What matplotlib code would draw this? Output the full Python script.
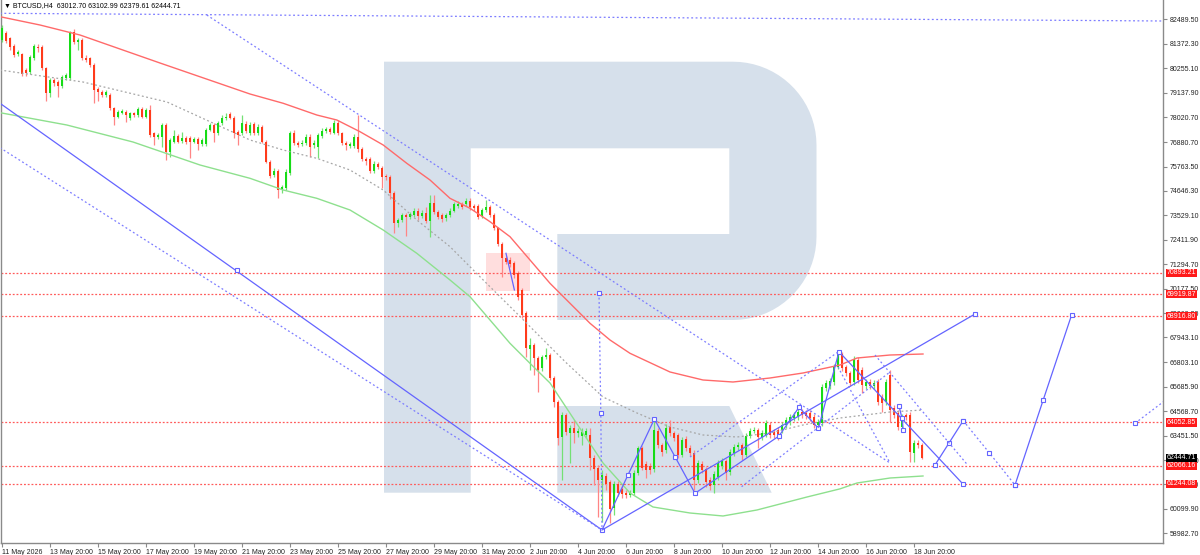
import numpy as np
import matplotlib
matplotlib.use("Agg")
import matplotlib.pyplot as plt
from matplotlib.patches import Polygon, Rectangle
import matplotlib.transforms as mtransforms

# ---------------- data ----------------
symbol_header = "\u25BC BTCUSD,H4  63012.70 63102.99 62379.61 62444.71"

x_tick_bars = [0, 12, 24, 36, 48, 60, 72, 84, 96, 108, 120, 132, 144, 156, 168, 180, 192, 204, 216, 228]
x_tick_labels = ["11 May 2026", "13 May 20:00", "15 May 20:00", "17 May 20:00", "19 May 20:00",
                 "21 May 20:00", "23 May 20:00", "25 May 20:00", "27 May 20:00", "29 May 20:00",
                 "31 May 20:00", "2 Jun 20:00", "4 Jun 20:00", "6 Jun 20:00", "8 Jun 20:00",
                 "10 Jun 20:00", "12 Jun 20:00", "14 Jun 20:00", "16 Jun 20:00", "18 Jun 20:00"]

y_tick_values = [82489.50, 81372.30, 80255.10, 79137.90, 78020.70, 76880.70, 75763.50, 74646.30,
                 73529.10, 72411.90, 71294.70, 70177.50, 69060.30, 67943.10, 66803.10, 65685.90,
                 64568.70, 63451.50, 62334.30, 61217.10, 60099.90, 58982.70]

level_values = [70893.21, 69919.87, 68916.80, 64052.85, 62066.16, 61244.08]
last_price = 62444.71

O = [81552, 81858, 81630, 81291, 80898, 80898, 80179, 80088, 80714, 81245,
     81245, 80257, 79113, 79722, 79644, 79447, 79799, 79799, 81904, 81474,
     81552, 80742, 80714, 80408, 79310, 79186, 79035, 79035, 78427, 78043,
     78226, 78271, 77968, 78198, 78120, 78381, 78043, 78349, 77283, 77128,
     77128, 77663, 76441, 76899, 77173, 76931, 77054, 77054, 76899, 77022,
     76780, 76780, 77434, 77663, 77283, 77740, 77968, 78152, 77968, 77329,
     77283, 77709, 77283, 77709, 77283, 77558, 76899, 75984, 75376, 75572,
     74689, 74767, 75453, 77283, 76858, 76794, 76826, 77128, 76748, 76670,
     77160, 77388, 77466, 77310, 77768, 77283, 76826, 76716, 76716, 77128,
     76551, 76094, 76094, 75572, 75879, 75682, 75330, 75270, 74565, 73166,
     73317, 73545, 73440, 73545, 73742, 73500, 73623, 73285, 74081, 73697,
     73545, 73394, 73545, 73742, 73957, 74049, 74049, 74200, 73957, 73957,
     73500, 73774, 73898, 73545, 72937, 72219, 71564, 71487, 71336, 70892,
     70114, 69062, 67415, 67598, 67003, 66546, 67049, 67140, 66088, 64990,
     63389, 64395, 63572, 63801, 63572, 63435, 63481, 63481, 62428, 61971,
     61422, 61605, 61330, 60141, 61239, 61010, 60827, 60736, 60827, 61742,
     62886, 62154, 62062, 61925, 63663, 63023, 62794, 63846, 63572, 63481,
     62565, 63297, 62886, 62657, 61422, 62154, 61925, 61422, 61193, 61559,
     62062, 62291, 61788, 62657, 62931, 63023, 62565, 63435, 63663, 63709,
     63389, 63481, 63938, 63618, 63709, 63709, 63938, 64075, 64258, 64304,
     64532, 64487, 64487, 64304, 63938, 64029, 65631, 65722, 65905, 66591,
     67186, 66591, 66317, 65905, 66912, 66454, 65722, 65905, 65722, 65905,
     65219, 64990, 66225, 64716, 64487, 63846, 64395, 64395, 62657, 63115,
     63012.70]

Hi = [82238, 81963, 81689, 81369, 81094, 80957, 80271, 80866, 81369, 81369,
      81323, 80317, 79813, 79813, 79722, 79951, 80042, 81963, 82055, 81643,
      81643, 80866, 80774, 80499, 79401, 79264, 79264, 79127, 78486, 78349,
      78395, 78349, 78258, 78258, 78486, 78486, 78441, 78578, 77343, 77297,
      77754, 77754, 77068, 77434, 77251, 77329, 77160, 77160, 77114, 77114,
      77068, 77526, 77740, 77754, 77846, 78120, 78198, 78258, 78075, 77434,
      78120, 77846, 77800, 77800, 77709, 77663, 76977, 76062, 75696, 75650,
      74918, 75650, 77388, 77434, 76931, 76977, 77251, 77251, 76977, 77297,
      77526, 77571, 77571, 77892, 77892, 77343, 76931, 76886, 77251, 78120,
      76657, 76199, 76199, 76016, 75970, 75787, 75421, 75376, 74643, 73408,
      73637, 73637, 73683, 73865, 73865, 73774, 73925, 74460, 74460, 73774,
      73637, 73637, 73865, 74140, 74186, 74140, 74323, 74323, 74049, 74049,
      73865, 74232, 74003, 73637, 73019, 72310, 71670, 71624, 71441, 70983,
      70206, 69154, 67918, 67690, 67095, 67140, 67461, 67232, 66180, 65082,
      64532, 64487, 63938, 64167, 63801, 63801, 63801, 63801, 62565, 62108,
      61879, 61742, 61422, 61376, 61376, 61147, 60964, 60964, 61879, 62977,
      62977, 62291, 62200, 64167, 63801, 63115, 63984, 64167, 63663, 63572,
      63389, 63435, 63023, 62794, 62337, 62291, 62017, 61559, 61834, 62337,
      62428, 62383, 62840, 63069, 63160, 63115, 63572, 63801, 63846, 63801,
      63709, 64167, 64075, 63755, 63846, 64075, 64304, 64441, 64532, 64670,
      64670, 64624, 64624, 64441, 64212, 65814, 65997, 66088, 66728, 67369,
      67278, 66683, 66408, 67095, 67049, 66591, 66042, 66042, 65997, 66042,
      65356, 66042, 66454, 64853, 64624, 64441, 64487, 64532, 63252, 63252,
      63102.99]

Lo = [81460, 81415, 81094, 80774, 80820, 79905, 79905, 79997, 80637, 81003,
      80179, 78761, 78944, 79447, 78958, 79356, 79722, 79722, 81369, 81094,
      80637, 80545, 80330, 78656, 78761, 78944, 78944, 78349, 77663, 77983,
      78166, 77814, 77892, 78029, 78029, 77983, 77983, 77114, 76748, 77022,
      76670, 76062, 76213, 76840, 76840, 76840, 76794, 76153, 76840, 76519,
      76702, 76702, 77388, 76899, 77205, 77663, 77892, 77937, 77054, 76748,
      77205, 77297, 77205, 77205, 77205, 76840, 75925, 75224, 75284, 74309,
      74552, 74689, 75376, 76748, 76657, 76702, 76748, 76213, 76611, 76140,
      77068, 77297, 77251, 77251, 77205, 76748, 76519, 76611, 76611, 76428,
      76016, 75833, 75468, 75468, 75650, 74767, 75147, 74264, 72735, 73010,
      73225, 72585, 73362, 73454, 73317, 73408, 73180, 72552, 73591, 73362,
      73225, 73271, 73454, 73683, 73865, 73820, 73957, 73774, 73728, 73362,
      73408, 73683, 73454, 72859, 72127, 70709, 71304, 71167, 70663, 69657,
      68833, 67049, 66454, 66225, 65448, 66408, 66958, 65997, 64761, 63023,
      61422, 63481, 62200, 63115, 63389, 63023, 63343, 61879, 61193, 59729,
      59500, 60964, 59454, 59821, 60690, 60598, 60598, 60644, 60736, 61651,
      61879, 61513, 61696, 61788, 62886, 62520, 62657, 63435, 63206, 62428,
      62474, 62748, 62520, 60964, 61284, 61742, 61101, 60964, 60827, 61422,
      61925, 61422, 61651, 62520, 62794, 62337, 62474, 63343, 63572, 62886,
      63252, 63389, 63343, 63343, 63252, 63572, 63801, 63938, 64121, 64167,
      64258, 64212, 64121, 63801, 63709, 63892, 65493, 65585, 65768, 66500,
      66408, 66180, 65722, 65768, 65860, 65402, 65585, 65585, 65585, 64853,
      64532, 64853, 64075, 64258, 63709, 63709, 64167, 62245, 62245, 62886,
      62379.61]

C = [82114, 81506, 81245, 80866, 81016, 79982, 80028, 80774, 81291, 81172,
     80257, 79113, 79722, 79571, 79461, 79873, 79951, 81858, 81474, 81552,
     80714, 80637, 80408, 79264, 79159, 79035, 79159, 78427, 78043, 78271,
     78303, 78120, 78198, 78120, 78395, 78043, 78349, 77205, 77128, 77205,
     77663, 76441, 76977, 77173, 76899, 77082, 76899, 76899, 77022, 76780,
     76977, 77434, 77663, 77283, 77740, 77997, 78043, 77997, 77283, 77205,
     77740, 77402, 77663, 77283, 77585, 76899, 75984, 75330, 75572, 74689,
     74813, 75527, 77283, 76826, 76748, 76858, 77128, 76670, 76858, 77205,
     77402, 77466, 77356, 77768, 77283, 76826, 76748, 76794, 77128, 76551,
     76094, 76030, 75572, 75879, 75755, 75298, 75270, 74565, 73166, 73317,
     73545, 73440, 73591, 73742, 73500, 73651, 73285, 74081, 73697, 73468,
     73349, 73545, 73742, 74049, 74049, 73925, 74200, 73898, 73852, 73440,
     73774, 73898, 73545, 72937, 72219, 71564, 71409, 71304, 70800, 69794,
     68970, 67461, 67598, 67003, 66454, 67049, 67140, 66088, 64990, 63343,
     64395, 63618, 63801, 63572, 63663, 63618, 63663, 62428, 61925, 61422,
     61651, 61239, 60095, 61239, 60827, 60781, 60736, 60827, 61742, 62886,
     61971, 61879, 61879, 63709, 63023, 62703, 63801, 63572, 63343, 62565,
     63252, 62886, 62657, 61422, 62200, 61879, 61330, 61147, 61696, 62200,
     62291, 61742, 62703, 62931, 63023, 62565, 63435, 63663, 63709, 63389,
     63572, 64029, 63481, 63481, 63389, 63938, 64167, 64304, 64395, 64532,
     64395, 64350, 64258, 63938, 64075, 65676, 65860, 65951, 66591, 67232,
     66546, 66317, 65860, 66957, 65997, 65768, 65905, 65722, 65860, 64990,
     64944, 65905, 64624, 64395, 63846, 64304, 64304, 62703, 63115, 63023,
     62444.71]

# moving averages (bar index, price)
red_ma_x = [-0.5, 9.5, 19.5, 39.5, 62, 70.3, 78.7, 83.7, 89.5, 95.3, 101.2, 107, 112, 117, 122,
            127, 132, 137, 142, 147, 152, 157, 167, 175.25, 182.75, 192, 200.25, 209.5, 213.75,
            222, 230.25]
red_ma_y = [82618, 82238, 81780, 80499, 79081, 78656, 78120, 77892, 77356, 76748, 75910, 75147,
            74309, 73852, 73239, 72553, 71487, 70420, 69506, 68591, 67827, 67218, 66363, 65997,
            65905, 66088, 66317, 66683, 67003, 67140, 67186]
green_ma_x = [-0.5, 16.2, 32.75, 49.5, 62, 70.3, 78.7, 87, 95.3, 103.7, 112, 117, 122, 127, 132,
              137, 145.25, 150.25, 157, 162.75, 172, 180.25, 188.75, 201.25, 209.5, 213.75, 222,
              230.25]
green_ma_y = [78226, 77663, 76885, 75833, 75224, 74689, 74309, 73774, 72859, 71793, 70572, 69808,
              68742, 67675, 66760, 65860, 63572, 62200, 60827, 60187, 59912, 59775, 60050, 60644,
              61016, 61284, 61513, 61605]
grey_ma_x = [-0.5, 20.25, 41.25, 62, 70.3, 78.7, 87, 95.3, 103.7, 112, 120.3, 128.7, 137, 141.2,
             150.25, 158.75, 167, 175.25, 183.75, 192, 200.25, 209.5, 222, 230.25]
grey_ma_y = [80179, 79630, 78715, 76977, 76519, 76139, 75604, 74689, 73317, 72096, 70572, 69048,
             67520, 66760, 65219, 64487, 63847, 63481, 63389, 63572, 63938, 64258, 64533, 64624]

# analyst drawings (bar index, price)
top_dotted_x, top_dotted_y = [-0.5, 290.25], [82773, 82421]
diag_dotted_x, diag_dotted_y = [51.2, 222], [82695, 62200]
down_solid_x, down_solid_y = [-0.5, 150], [78656, 59134]
down_solid_mark = (58.75, 71029)
down_dotted_x, down_dotted_y = [-0.5, 150], [76624, 59134]
vert_dotted_x, vert_dotted_y = [149.25, 149.7, 150], [69963, 64501, 59134]
pink_seg_x, pink_seg_y = [126, 128.1], [71793, 70114]
zigzag_x = [150, 163.1, 173.25, 194.25, 199.25, 204.1, 209.25, 240.3]
zigzag_y = [59134, 64212, 60813, 63435, 64748, 63787, 67291, 61225]
zigzag_mid_x, zigzag_mid_y = [156.6, 168.25], [61650, 62488]
small_zz_x, small_zz_y = [224.25, 225, 225.3], [64807, 64244, 63709]
rise_solid_x, rise_solid_y = [150, 243.25], [59134, 69016]
fc_a_x, fc_a_y = [233.25, 236.8, 240.3], [62108, 63128, 64135]
fc_b_x, fc_b_y = [240.3, 246.8, 253.25], [64135, 62671, 61193]
fc_c_x, fc_c_y = [253.25, 260.3, 267.4], [61193, 65082, 68970]
fc_d_x, fc_d_y = [283.25, 292], [64016, 65232]
rise_dot1_x, rise_dot1_y = [172, 209], [62474, 67278]
rise_dot2_x, rise_dot2_y = [184.9, 222], [61115, 66363]
fall_dot1_x, fall_dot1_y = [209, 222], [66591, 62200]
fall_dot2_x, fall_dot2_y = [218.25, 241.2], [67140, 62154]
pink_box = (121, 70082, 132.1, 71793)

# ---------------- figure ----------------
W, H = 1200, 555
FONT = ["Liberation Sans", "DejaVu Sans"]
plt.rcParams["font.family"] = FONT
FS = 5.0

fig = plt.figure(figsize=(W / 100, H / 100), dpi=100, facecolor="white")
ax = fig.add_axes([1 / W, 12 / H, 1162 / W, 543 / H])
ax.set_facecolor("white")
ax.set_xlim(-0.25, 290.25)
ax.set_ylim(58539.4, 83381.6)

# watermark logo (pixel coordinates of figure, y downward)
pxT = mtransforms.Affine2D().scale(1 / W, -1 / H).translate(0, 1) + fig.transFigure
r = 83.5
t1 = np.linspace(-np.pi / 2, 0, 20)
t2 = np.linspace(0, np.pi / 2, 20)
outer = [(384, 61.7), (733, 61.7)]
outer += list(zip(733 + r * np.cos(t1), 145.2 + r * np.sin(t1)))
outer += list(zip(733 + r * np.cos(t2), 236.5 + r * np.sin(t2)))
outer += [(557.3, 320), (557.3, 234), (729.3, 234), (729.3, 148.3), (470.7, 148.3),
          (470.7, 492.7), (384, 492.7)]
logo_col = "#d6e0eb"
ax.add_patch(Polygon(outer, closed=True, transform=pxT, facecolor=logo_col, edgecolor="none", zorder=0))
ax.add_patch(Polygon([(557.3, 406), (729.3, 406), (771.7, 492.7), (557.3, 492.7)], closed=True,
                     transform=pxT, facecolor=logo_col, edgecolor="none", zorder=0))

# pink rectangle
ax.add_patch(Rectangle((pink_box[0], pink_box[1]), pink_box[2] - pink_box[0], pink_box[3] - pink_box[1],
                       facecolor="#ffdede", edgecolor="none", zorder=1))

# horizontal levels
for v in level_values:
    ax.axhline(v, color="#ff5a5a", lw=0.9, ls=(0, (1.5, 1.5)), zorder=2)

# candles
Oa, Ha, La, Ca = map(np.array, (O, Hi, Lo, C))
idx = np.arange(len(Ca))
up = Ca >= Oa
wick_cols = np.where(up, "#74e074", "#ff8585")
body_cols = np.where(up, "#16dc16", "#ff3b1b")
ax.vlines(idx, La, Ha, colors=wick_cols, lw=0.9, zorder=3)
bottoms = np.minimum(Oa, Ca)
heights = np.maximum(np.abs(Ca - Oa), 45)
ax.bar(idx, heights, bottom=bottoms, width=0.72, color=body_cols, linewidth=0, zorder=4)

# moving averages
ax.plot(red_ma_x, red_ma_y, color="#ff6a6a", lw=1.0, zorder=5)
ax.plot(green_ma_x, green_ma_y, color="#8ee08e", lw=1.0, zorder=5)
ax.plot(grey_ma_x, grey_ma_y, color="#a6a6a6", lw=0.9, ls=(0, (1.5, 2)), zorder=5)

# blue drawings
BS = "#6464ff"
BD = "#7c7cff"
dot = (0, (1.5, 2))
mk = dict(marker="s", ms=3.2, mfc="white", mec=BS, mew=0.8)
ax.plot(top_dotted_x, top_dotted_y, color=BD, lw=0.9, ls=dot, zorder=6)
ax.plot(diag_dotted_x, diag_dotted_y, color=BD, lw=0.9, ls=dot, zorder=6)
ax.plot(down_solid_x, down_solid_y, color=BS, lw=0.9, zorder=6)
ax.plot([down_solid_mark[0]], [down_solid_mark[1]], ls="none", zorder=7, **mk)
ax.plot(down_dotted_x, down_dotted_y, color=BD, lw=0.9, ls=dot, zorder=6)
ax.plot(vert_dotted_x, vert_dotted_y, color=BD, lw=0.9, ls=dot, zorder=6)
ax.plot(vert_dotted_x[:2], vert_dotted_y[:2], ls="none", zorder=7, **mk)
ax.plot(pink_seg_x, pink_seg_y, color=BS, lw=0.9, zorder=6)
ax.plot(zigzag_x, zigzag_y, color=BS, lw=0.9, zorder=6, **mk)
ax.plot(zigzag_mid_x, zigzag_mid_y, ls="none", zorder=7, **mk)
ax.plot(small_zz_x, small_zz_y, color=BS, lw=0.9, zorder=6, **mk)
ax.plot(rise_solid_x, rise_solid_y, color=BS, lw=0.9, zorder=6)
ax.plot(rise_solid_x[1:], rise_solid_y[1:], ls="none", zorder=7, **mk)
ax.plot(fc_a_x, fc_a_y, color=BS, lw=0.9, zorder=6, **mk)
ax.plot(fc_b_x, fc_b_y, color=BD, lw=0.9, ls=dot, zorder=6, **mk)
ax.plot(fc_c_x, fc_c_y, color=BS, lw=0.9, zorder=6, **mk)
ax.plot(fc_d_x, fc_d_y, color=BD, lw=0.9, ls=dot, zorder=6)
ax.plot(fc_d_x[:1], fc_d_y[:1], ls="none", zorder=7, **mk)
for xs, ys in ((rise_dot1_x, rise_dot1_y), (rise_dot2_x, rise_dot2_y),
               (fall_dot1_x, fall_dot1_y), (fall_dot2_x, fall_dot2_y)):
    ax.plot(xs, ys, color=BD, lw=0.9, ls=dot, zorder=6)

# axes styling
for s in ("left", "bottom", "right"):
    ax.spines[s].set_color("#8a8a8a")
    ax.spines[s].set_linewidth(1.0)
ax.spines["top"].set_visible(False)

ax.yaxis.tick_right()
ax.set_yticks(y_tick_values)
ax.set_yticklabels([f"{v:.2f}" for v in y_tick_values])
ax.tick_params(axis="y", length=3, width=0.8, pad=2, labelsize=FS, colors="#8a8a8a", labelcolor="#222222")
ax.set_xticks(x_tick_bars)
ax.set_xticklabels(x_tick_labels)
ax.tick_params(axis="x", length=3, width=0.8, pad=1.5, labelsize=FS, colors="#8a8a8a", labelcolor="#222222")
for lab in ax.get_xticklabels():
    lab.set_ha("left")

# price labels at right
for v in level_values:
    ax.annotate(f"{v:.2f}", xy=(1, v), xycoords=("axes fraction", "data"), xytext=(4, 0),
                textcoords="offset pixels", ha="left", va="center", fontsize=FS, color="white",
                annotation_clip=False, zorder=20,
                bbox=dict(boxstyle="square,pad=0.08", fc="#ff1a1a", ec="none"))
ax.annotate(f"{last_price:.2f}", xy=(1, last_price), xycoords=("axes fraction", "data"), xytext=(4, 0),
            textcoords="offset pixels", ha="left", va="center", fontsize=FS, color="white",
            annotation_clip=False, zorder=21,
            bbox=dict(boxstyle="square,pad=0.08", fc="black", ec="none"))

# header
ax.annotate(symbol_header, xy=(0, 1), xycoords="axes fraction", xytext=(3, -6),
            textcoords="offset pixels", ha="left", va="center", fontsize=FS, color="black", zorder=20)

fig.savefig("out.png", dpi=100, facecolor="white")
